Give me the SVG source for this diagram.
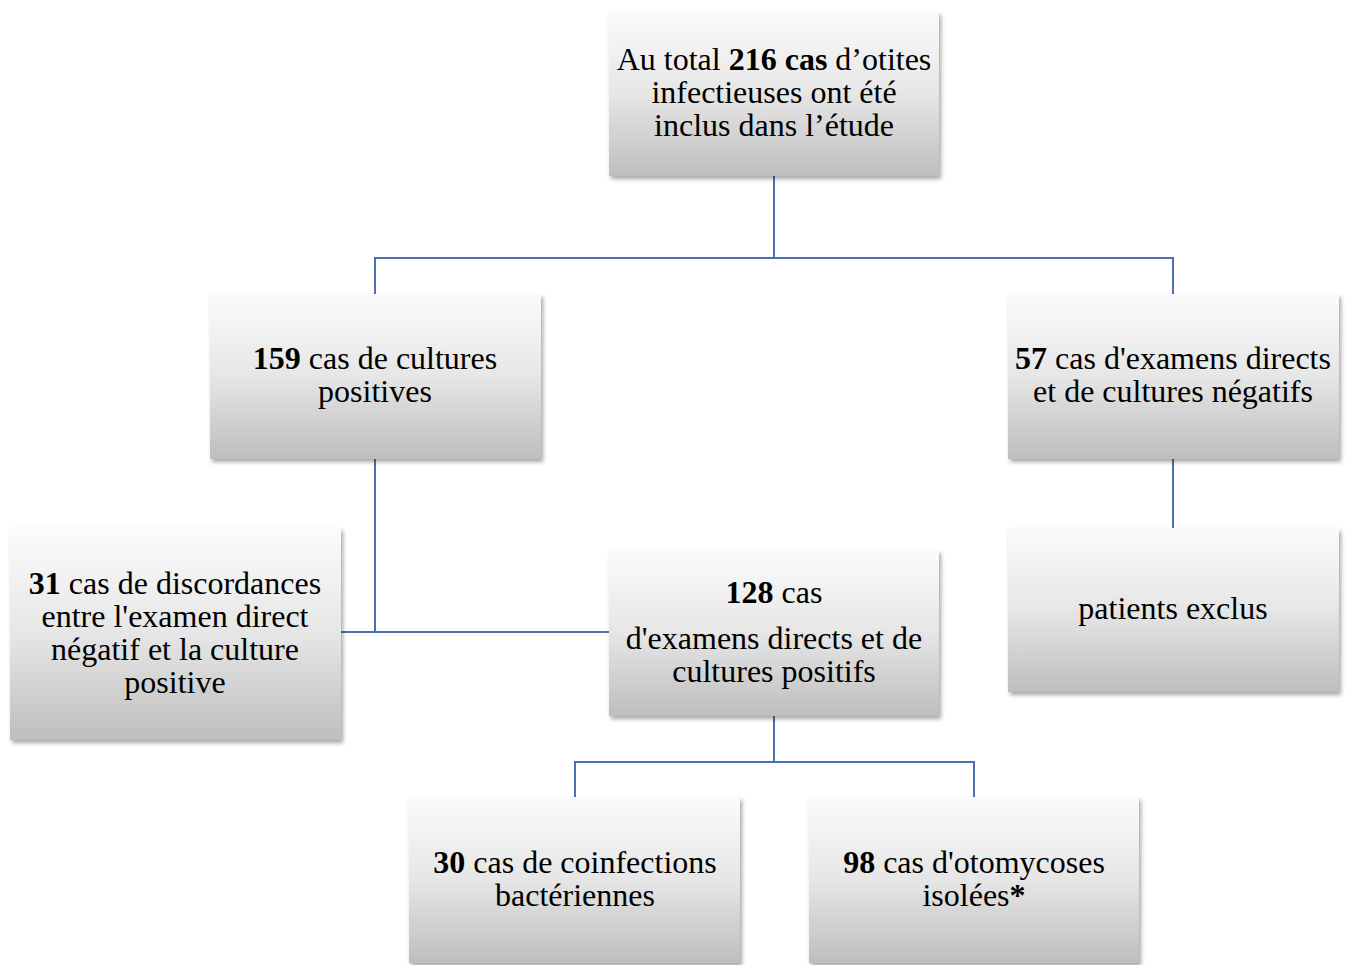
<svg xmlns="http://www.w3.org/2000/svg" width="1345" height="965" viewBox="0 0 1345 965">
<style>
.box{fill:url(#g);filter:url(#sh)}
.t{font-family:"Liberation Serif","Times New Roman",serif;font-size:32px;fill:#000;text-anchor:middle}
.b{font-weight:bold}
.c{fill:none;stroke:#4a72b0;stroke-width:2}
</style>
<defs>
<linearGradient id="g" x1="0" y1="0" x2="0" y2="1">
<stop offset="0" stop-color="#fbfbfb"/>
<stop offset="0.5" stop-color="#e6e6e6"/>
<stop offset="1" stop-color="#bebebe"/>
</linearGradient>
<filter id="sh" x="-10%" y="-10%" width="120%" height="130%">
<feDropShadow dx="2" dy="3" stdDeviation="2" flood-color="#000" flood-opacity="0.35"/>
</filter>
</defs>
<rect width="1345" height="965" fill="#fff"/>
<g id="connectors">
<polyline class="c" points="774,176 774,258"/>
<polyline class="c" points="375,294 375,258 1173,258 1173,294"/>
<polyline class="c" points="375,459 375,632"/>
<polyline class="c" points="341,632 609,632"/>
<polyline class="c" points="1173,459 1173,528"/>
<polyline class="c" points="774,716 774,762"/>
<polyline class="c" points="575,797 575,762 974,762 974,797"/>
</g>
<g id="n-total">
<rect class="box" x="609" y="12" width="330" height="164"/>
<text class="t" x="774" y="70">Au total <tspan class="b">216 cas</tspan> d’otites</text>
<text class="t" x="774" y="103">infectieuses ont été</text>
<text class="t" x="774" y="136">inclus dans l’étude</text>
</g>
<g id="n-159">
<rect class="box" x="210" y="294" width="331" height="165"/>
<text class="t" x="375" y="369"><tspan class="b">159</tspan> cas de cultures</text>
<text class="t" x="375" y="402">positives</text>
</g>
<g id="n-57">
<rect class="box" x="1008" y="294" width="331" height="165"/>
<text class="t" x="1173" y="369"><tspan class="b">57</tspan> cas d'examens directs</text>
<text class="t" x="1173" y="402">et de cultures négatifs</text>
</g>
<g id="n-31">
<rect class="box" x="10" y="528" width="331" height="212"/>
<text class="t" x="175" y="594"><tspan class="b">31</tspan> cas de discordances</text>
<text class="t" x="175" y="627">entre l'examen direct</text>
<text class="t" x="175" y="660">négatif et la culture</text>
<text class="t" x="175" y="693">positive</text>
</g>
<g id="n-128">
<rect class="box" x="609" y="550" width="330" height="166"/>
<text class="t" x="774" y="603"><tspan class="b">128</tspan> cas</text>
<text class="t" x="774" y="649">d'examens directs et de</text>
<text class="t" x="774" y="682">cultures positifs</text>
</g>
<g id="n-exclus">
<rect class="box" x="1008" y="528" width="331" height="164"/>
<text class="t" x="1173" y="619">patients exclus</text>
</g>
<g id="n-30">
<rect class="box" x="409" y="797" width="331" height="166"/>
<text class="t" x="575" y="873"><tspan class="b">30</tspan> cas de coinfections</text>
<text class="t" x="575" y="906">bactériennes</text>
</g>
<g id="n-98">
<rect class="box" x="809" y="797" width="330" height="166"/>
<text class="t" x="974" y="873"><tspan class="b">98</tspan> cas d'otomycoses</text>
<text class="t" x="974" y="906">isolées<tspan class="b">*</tspan></text>
</g>
</svg>
